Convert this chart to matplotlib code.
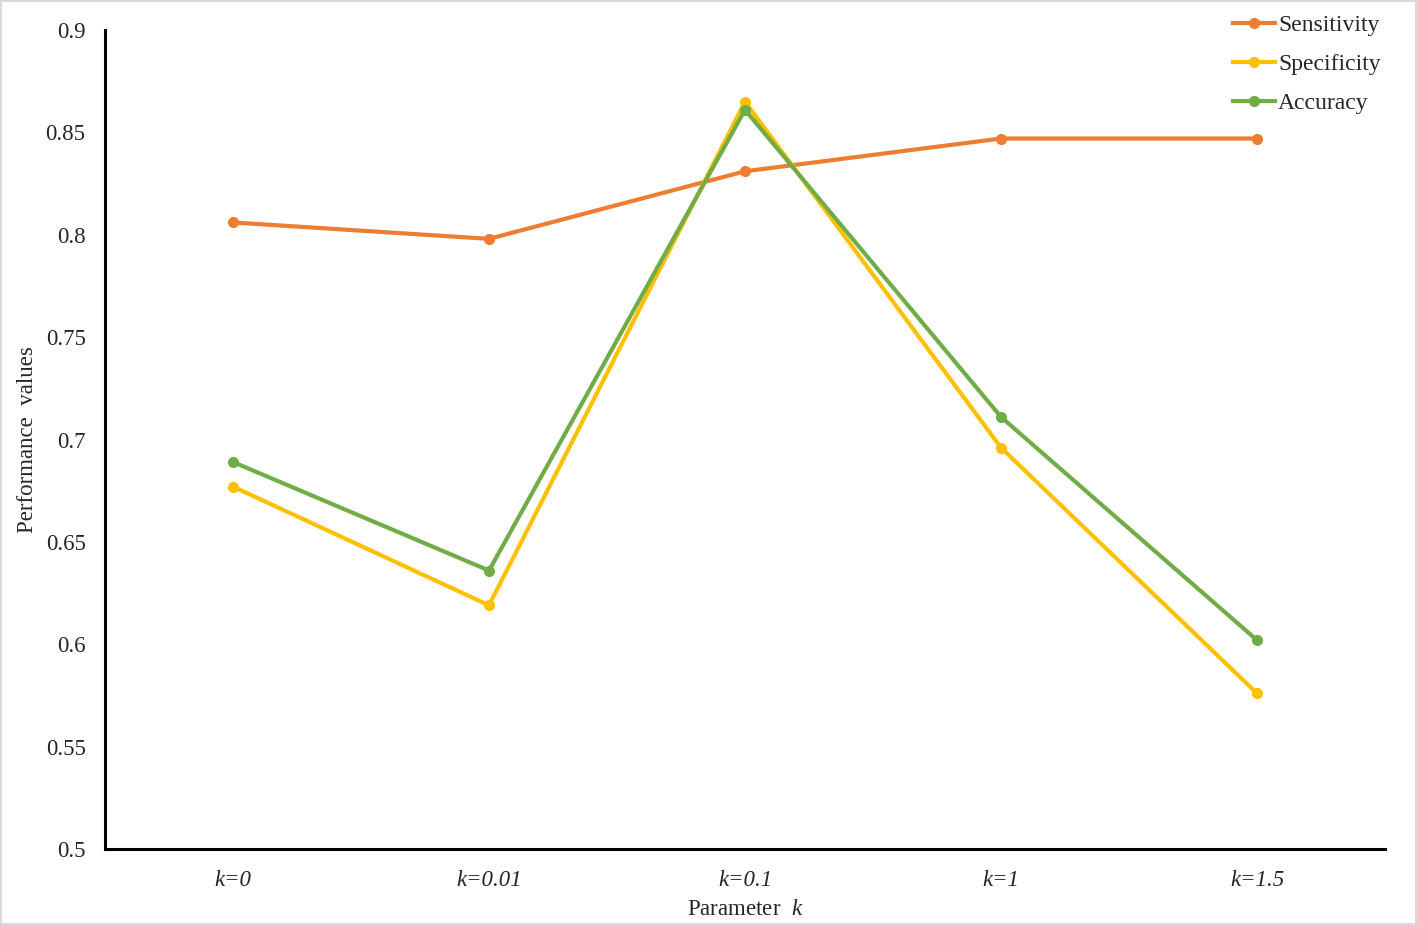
import numpy as np
import matplotlib
matplotlib.use("Agg")
import matplotlib.pyplot as plt

plt.rcParams['font.family'] = ['Liberation Serif', 'DejaVu Serif']
plt.rcParams['mathtext.fontset'] = 'custom'
plt.rcParams['mathtext.rm'] = 'Liberation Serif'
plt.rcParams['mathtext.it'] = 'Liberation Serif:italic'

# data
CATEGORIES = ["k=0", "k=0.01", "k=0.1", "k=1", "k=1.5"]
SENSITIVITY = [0.806, 0.798, 0.831, 0.847, 0.847]
SPECIFICITY = [0.677, 0.619, 0.865, 0.696, 0.576]
ACCURACY = [0.689, 0.636, 0.861, 0.711, 0.602]
Y_TICKS = [0.5, 0.55, 0.6, 0.65, 0.7, 0.75, 0.8, 0.85, 0.9]
Y_TICK_LABELS = ["0.5", "0.55", "0.6", "0.65", "0.7", "0.75", "0.8", "0.85", "0.9"]

SERIES = [
    ("Sensitivity", SENSITIVITY, "#ED7D31"),
    ("Specificity", SPECIFICITY, "#FFC000"),
    ("Accuracy", ACCURACY, "#70AD47"),
]

fig = plt.figure(figsize=(14.17, 9.25), dpi=100)
fig.patch.set_edgecolor("#d9d9d9")
fig.patch.set_linewidth(1.5)
ax = fig.add_axes([105 / 1417, 1 - 849 / 925, 1280 / 1417, 819 / 925])

x = np.arange(len(CATEGORIES))
for name, vals, color in SERIES:
    ax.plot(x, vals, color=color, lw=3, marker='o', ms=7, label=name,
            solid_joinstyle='round')

ax.set_xlim(-0.5, len(CATEGORIES) - 0.5)
ax.set_ylim(0.5, 0.9)
ax.set_yticks(Y_TICKS)
ax.set_yticklabels(Y_TICK_LABELS, fontsize=16.5, color="#262626")
ax.set_xticks(x)
ax.set_xticklabels(CATEGORIES, fontsize=16.5, style='italic', color="#262626")
ax.tick_params(axis='both', length=0)
ax.tick_params(axis='y', pad=14)
ax.tick_params(axis='x', pad=15)

for side in ['top', 'right']:
    ax.spines[side].set_visible(False)
for side in ['left', 'bottom']:
    ax.spines[side].set_linewidth(2.2)
    ax.spines[side].set_color("black")

ax.set_xlabel("Parameter  $k$", fontsize=16.5, color="#262626", labelpad=6)
ax.set_ylabel("Performance  values", fontsize=16.5, color="#262626")
ax.yaxis.set_label_coords(-0.052, 0.5)

ax.legend(loc='upper right', bbox_to_anchor=(1402 / 1417, 1 + 7 / 925),
          bbox_transform=fig.transFigure, frameon=False, fontsize=17,
          handlelength=1.75, handletextpad=0.15, labelspacing=0.75,
          labelcolor="#262626")

fig.savefig("out.png", dpi=100)
